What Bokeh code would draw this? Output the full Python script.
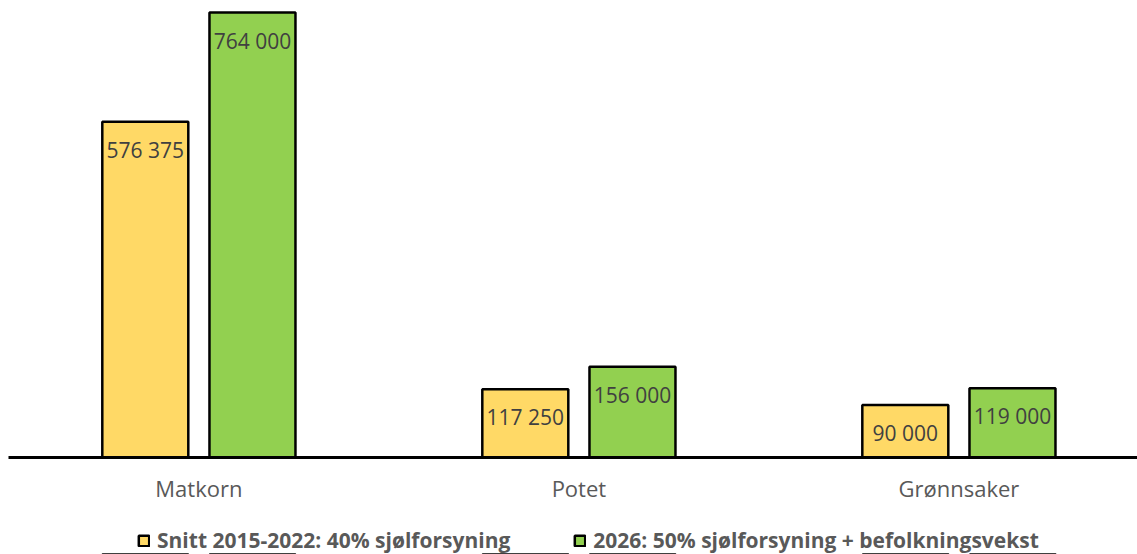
from bokeh.plotting import figure
from bokeh.layouts import column
from bokeh.models import Range1d, Legend, LegendItem, ColumnDataSource, FixedTicker
from bokeh.core.properties import value
from bokeh.embed import file_html
from bokeh.resources import INLINE

categories = ["Matkorn", "Potet", "Grønnsaker"]
snitt_values = [576375, 117250, 90000]
ny_values = [764000, 156000, 119000]
series_names = ["Snitt 2015-2022: 40% sjølforsyning", "2026: 50% sjølforsyning + befolkningsvekst"]
colors = ["#FFD966", "#92D050"]


def fmt(v):
    return f"{v:,}".replace(",", " ")


idx = list(range(len(categories)))
off = 0.141
bw = 0.2263

src1 = ColumnDataSource(dict(x=[i - off for i in idx], top=snitt_values,
                             label=[fmt(v) for v in snitt_values]))
src2 = ColumnDataSource(dict(x=[i + off for i in idx], top=ny_values,
                             label=[fmt(v) for v in ny_values]))

ymax = max(ny_values) * 449 / 445

p = figure(frame_width=1129, frame_height=449, x_range=Range1d(-0.501, 2.470), y_range=Range1d(0, ymax),
           output_backend="svg", toolbar_location=None, y_axis_location=None,
           min_border_left=8, min_border_right=0, min_border_top=8, min_border_bottom=57)
p.outline_line_color = None
p.xgrid.visible = False
p.ygrid.visible = False

bar_style = dict(line_color="black", line_width=2.5)
r1 = p.vbar(x="x", top="top", width=bw, source=src1, fill_color=colors[0], **bar_style)
r2 = p.vbar(x="x", top="top", width=bw, source=src2, fill_color=colors[1], **bar_style)

for s in (src1, src2):
    p.text(x="x", y="top", text="label", source=s, text_align="center", text_baseline="middle",
           y_offset=28, text_font=value("Open Sans"), text_font_size="21px", text_color="#404040")

ax = p.xaxis[0]
ax.ticker = FixedTicker(ticks=idx)
ax.major_label_overrides = {i: c for i, c in zip(idx, categories)}
ax.axis_line_width = 3
ax.axis_line_color = "black"
ax.major_tick_line_color = None
ax.minor_tick_line_color = None
ax.major_tick_out = 0
ax.major_tick_in = 0
ax.major_label_standoff = 15
ax.major_label_text_font = "Open Sans"
ax.major_label_text_font_size = "22px"
ax.major_label_text_color = "#595959"

# legend strip below the chart; its renderers reuse the series data but lie below the visible strip
p2 = figure(frame_width=1137, frame_height=40, x_range=Range1d(-0.501, 2.490),
            y_range=Range1d(2 * ymax, 3 * ymax),
            output_backend="svg", toolbar_location=None, x_axis_location=None, y_axis_location=None,
            min_border_left=0, min_border_right=0, min_border_top=0, min_border_bottom=0)
p2.outline_line_color = None
p2.xgrid.visible = False
p2.ygrid.visible = False
l1 = p2.vbar(x="x", top="top", width=bw, source=src1, fill_color=colors[0], **bar_style)
l2 = p2.vbar(x="x", top="top", width=bw, source=src2, fill_color=colors[1], **bar_style)

legend = Legend(items=[LegendItem(label=series_names[0], renderers=[l1]),
                       LegendItem(label=series_names[1], renderers=[l2])],
                orientation="horizontal", location=(137, 0), spacing=63,
                glyph_width=13, glyph_height=13, label_standoff=7,
                label_text_font="Open Sans", label_text_font_style="bold",
                label_text_font_size="21px", label_text_color="#595959",
                border_line_color=None, background_fill_alpha=0, padding=0, margin=0)
p2.add_layout(legend, "center")

layout = column(p, p2, spacing=0)
open("out.html", "w").write(file_html(layout, INLINE))
